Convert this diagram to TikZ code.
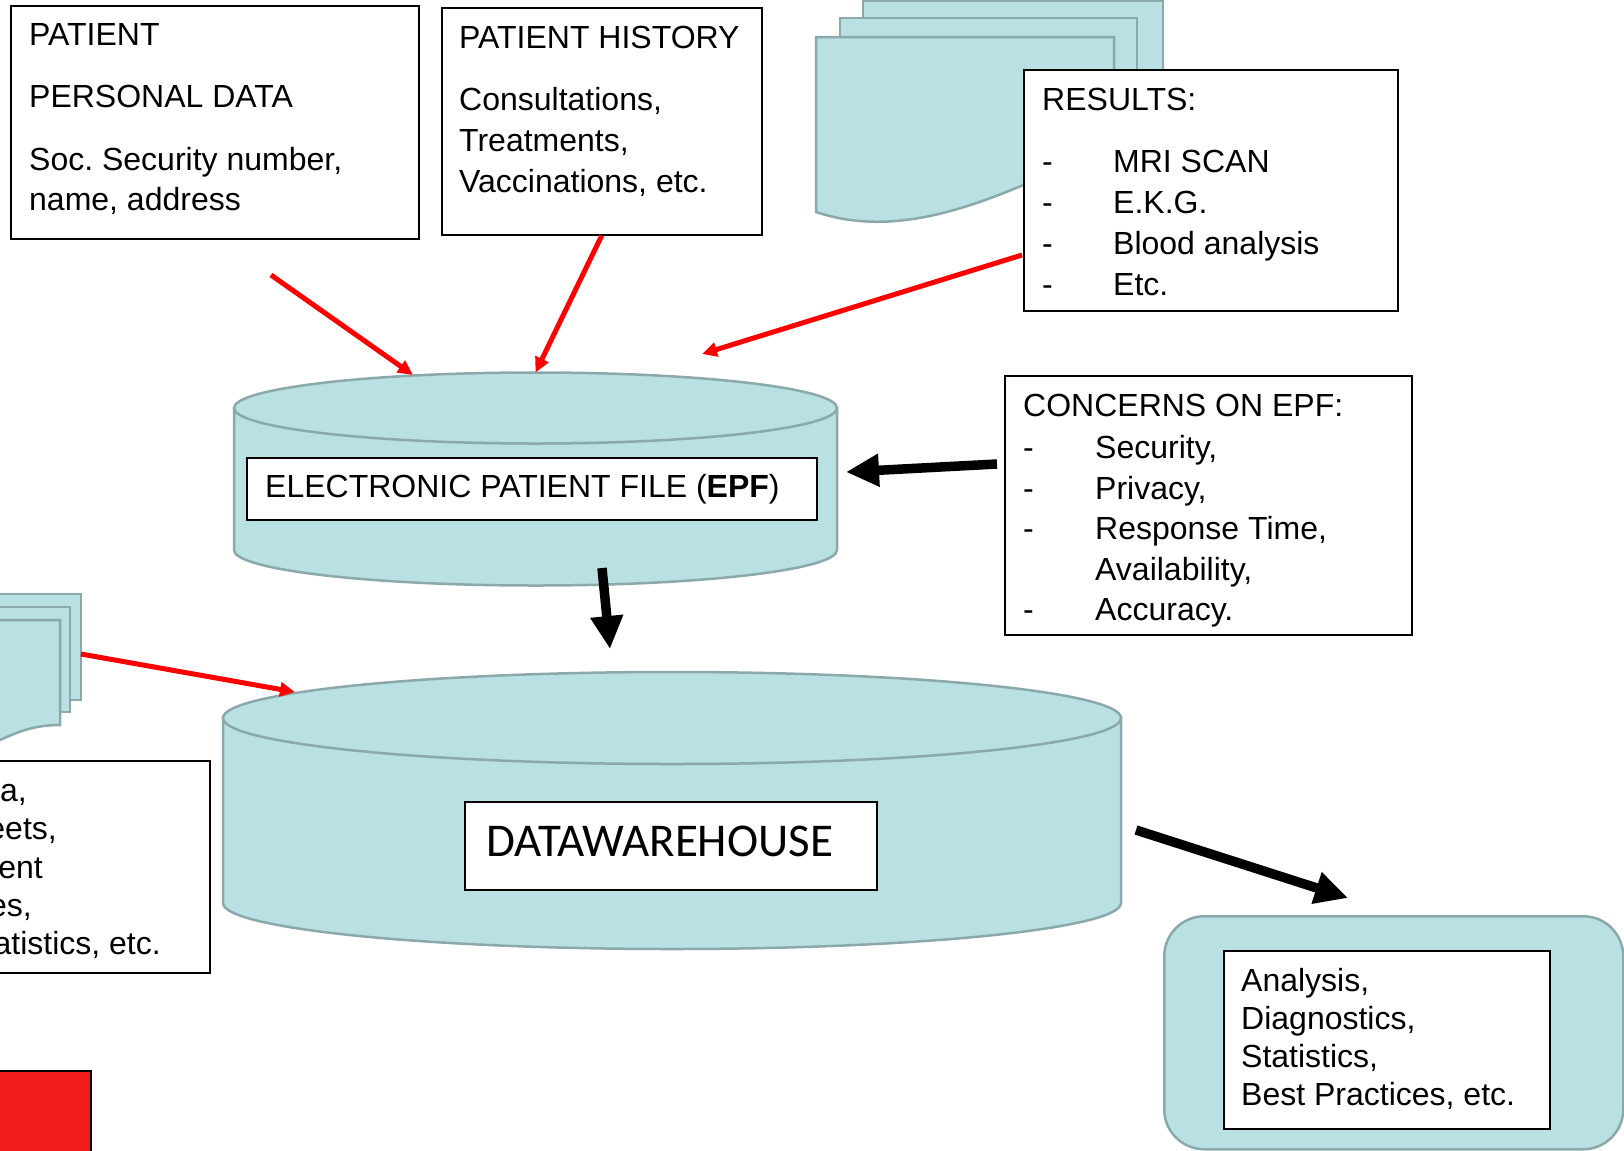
\documentclass[tikz,border=0pt]{standalone}
\usepackage{fontspec}
\setmainfont{Liberation Sans}
\newfontfamily\carlitofont{Carlito}
\usetikzlibrary{arrows.meta}
\definecolor{cylfill}{HTML}{B9E0E3}
\definecolor{cylline}{HTML}{8BA8AB}
\definecolor{redsq}{HTML}{F21B1B}
\tikzset{
  txt/.style={inner sep=0pt, anchor=base west, font=\fontsize{32bp}{38bp}\selectfont},
  txtr/.style={txt, anchor=base east},
  tbox/.style={draw=black, line width=1.5bp, fill=white, inner sep=0pt, anchor=north west},
  shp/.style={draw=cylline, line width=2.5bp, fill=cylfill},
  redarrow/.style={draw=red, line width=5bp, -{Triangle[length=15bp,width=14bp]}},
  blackarrow/.style={draw=black, line width=9.5bp, -{Triangle[length=33bp,width=31bp]}},
}
\begin{document}
\frenchspacing
\begin{tikzpicture}[x=1bp,y=-1bp]
\useasboundingbox (0,0) rectangle (1624,1150);
\clip (0,0) rectangle (1624,1150);
\fill[white] (0,0) rectangle (1624,1150);

% ---------- document stack, top right ----------
\draw[shp] (863,1) rectangle (1163,115);
\draw[shp] (840,18) rectangle (1137,130);
\draw[shp] (816,37) -- (1114,37) -- (1114,142) .. controls (990,205) and (900,240) .. (816,212) -- cycle;

% ---------- document stack, bottom left ----------
\draw[shp] (-300,594) rectangle (81,700);
\draw[shp] (-300,607) rectangle (70,712);
\draw[shp] (-300,620) -- (60,620) -- (60,725) .. controls (35,725) and (20,731) .. (0,740)
   .. controls (-20,749) and (-60,760) .. (-120,760) -- (-300,760) -- cycle;

% ---------- EPF cylinder ----------
\draw[shp] (234,408) -- (234,550) .. controls (234,569.6) and (369,585.5) .. (535.5,585.5)
   .. controls (702,585.5) and (837,569.6) .. (837,550) -- (837,408) -- cycle;
\draw[shp] (535.5,408) ellipse [x radius=301.5, y radius=35.5];
\coordinate (epftop) at (535.5,372.5);

% ---------- Datawarehouse cylinder ----------
\draw[shp] (223,718) -- (223,903) .. controls (223,928.4) and (424,949) .. (672,949)
   .. controls (920,949) and (1121,928.4) .. (1121,903) -- (1121,718) -- cycle;
\draw[shp] (672,718) ellipse [x radius=449, y radius=46];

% ---------- output rounded box ----------
\node[shp, rounded corners=40bp, inner sep=0pt, anchor=north west,
      minimum width=459bp, minimum height=233bp] (outer) at (1163,915) {};

% ---------- text boxes ----------
\node[tbox, minimum width=408bp, minimum height=233bp] (patient) at (10,5) {};
\node[tbox, minimum width=320bp, minimum height=227bp] (history) at (441,7) {};
\node[tbox, minimum width=374bp, minimum height=241bp] (results) at (1023,69) {};
\node[tbox, minimum width=407bp, minimum height=259bp] (concerns) at (1004,375) {};
\node[tbox, minimum width=570bp, minimum height=62bp] (epflabel) at (246,457) {};
\node[tbox, minimum width=412bp, minimum height=88bp] (dwlabel) at (464,801) {};
\node[tbox, minimum width=326bp, minimum height=178bp] (outlabel) at (1223,950) {};
\node[tbox, minimum width=229bp, minimum height=212bp] (leftbox) at (-20,760) {};
\node[tbox, fill=redsq, minimum width=100bp, minimum height=90bp] (redsquare) at (-10,1070) {};

% ---------- texts ----------
\node[txt] (t1a) at (29,45) {PATIENT};
\node[txt] (t1b) at (29,107) {PERSONAL DATA};
\node[txt] (t1c) at (29,170) {Soc. Security number,};
\node[txt] (t1d) at (29,210) {name, address};

\node[txt] (t2a) at (459,48) {PATIENT HISTORY};
\node[txt] (t2b) at (459,110) {Consultations,};
\node[txt] (t2c) at (459,151) {Treatments,};
\node[txt] (t2d) at (459,192) {Vaccinations, etc.};

\node[txt] (t3a) at (1042,110) {RESULTS:};
\node[txt] (t3b) at (1042,172) {-};
\node[txt] (t3c) at (1042,213) {-};
\node[txt] (t3d) at (1042,254) {-};
\node[txt] (t3e) at (1042,295) {-};
\node[txt] (t3f) at (1113,172) {MRI SCAN};
\node[txt] (t3g) at (1113,213) {E.K.G.};
\node[txt] (t3h) at (1113,254) {Blood analysis};
\node[txt] (t3i) at (1113,295) {Etc.};

\node[txt] (t4a) at (1023,416) {CONCERNS ON EPF:};
\node[txt] (t4b) at (1023,458) {-};
\node[txt] (t4c) at (1023,499) {-};
\node[txt] (t4d) at (1023,539) {-};
\node[txt] (t4e) at (1023,620) {-};
\node[txt] (t4f) at (1095,458) {Security,};
\node[txt] (t4g) at (1095,499) {Privacy,};
\node[txt] (t4h) at (1095,539) {Response Time,};
\node[txt] (t4i) at (1095,580) {Availability,};
\node[txt] (t4j) at (1095,620) {Accuracy.};

\node[txt] (t5) at (265,497) {ELECTRONIC PATIENT FILE (\textbf{EPF})};
\node[txt, font=\carlitofont\fontsize{47bp}{52bp}\selectfont] (t6) at (486,856) {DATAWAREHOUSE};

\node[txt] (t7a) at (1241,991) {Analysis,};
\node[txt] (t7b) at (1241,1029) {Diagnostics,};
\node[txt] (t7c) at (1241,1067) {Statistics,};
\node[txt] (t7d) at (1241,1105) {Best Practices, etc.};

\node[txtr] (t8a) at (27,801) {a,};
\node[txtr] (t8b) at (57,839) {eets,};
\node[txtr] (t8c) at (43,878) {ent};
\node[txtr] (t8d) at (32,916) {es,};
\node[txtr] (t8e) at (161,954) {atistics, etc.};

% ---------- connectors ----------
\coordinate (r1s) at (271,275);
\coordinate (r1e) at (413,375);
\coordinate (r3s) at (1022,255);
\coordinate (r3e) at (702,354);
\coordinate (r4s) at (81,654);
\coordinate (r4e) at (295,692);
\coordinate (b1s) at (997,464);
\coordinate (b1e) at (846,472);
\coordinate (b2s) at (602,568);
\coordinate (b2e) at (610,649);
\coordinate (b3s) at (1136,830);
\coordinate (b3e) at (1348,898);

\draw[redarrow] (r1s) -- (r1e);
\draw[redarrow] (history.south) -- (epftop);
\draw[redarrow] (r3s) -- (r3e);
\draw[redarrow] (r4s) -- (r4e);
\draw[blackarrow] (b1s) -- (b1e);
\draw[blackarrow] (b2s) -- (b2e);
\draw[blackarrow] (b3s) -- (b3e);
\end{tikzpicture}
\end{document}
